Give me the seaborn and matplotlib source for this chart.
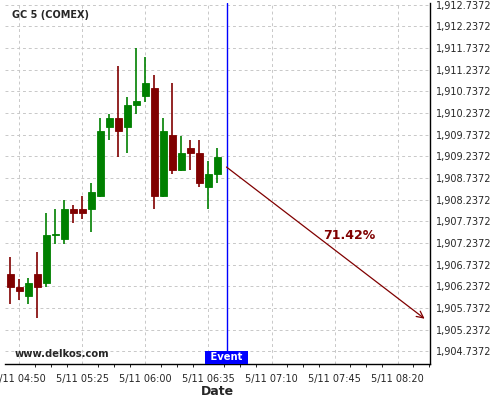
import seaborn as sns
import matplotlib.pyplot as plt
import matplotlib.dates as mdates
from matplotlib.ticker import FixedLocator, FuncFormatter
import pandas as pd
import numpy as np

# Candle data (5 minute bars, 11 May)
day = "2023-05-11"
times = ['04:45', '04:50', '04:55', '05:00', '05:05', '05:10', '05:15', '05:20',
         '05:25', '05:30', '05:35', '05:40', '05:45', '05:50', '05:55', '06:00',
         '06:05', '06:10', '06:15', '06:20', '06:25', '06:30', '06:35', '06:40']
opens = [1906.52, 1906.22, 1906.02, 1906.52, 1906.31, 1907.43, 1907.33, 1908.02,
         1908.02, 1908.02, 1908.32, 1909.92, 1910.12, 1909.92, 1910.43, 1910.64,
         1910.82, 1908.33, 1909.73, 1908.93, 1909.43, 1909.32, 1908.54, 1908.84]
highs = [1906.91, 1906.41, 1906.42, 1907.02, 1907.92, 1908.02, 1908.22, 1908.11,
         1908.32, 1908.62, 1910.12, 1910.22, 1911.32, 1910.61, 1911.73, 1911.52,
         1911.11, 1910.12, 1910.92, 1909.71, 1909.61, 1909.61, 1909.12, 1909.42]
lows = [1905.82, 1905.92, 1905.82, 1905.50, 1906.22, 1907.21, 1907.21, 1907.71,
        1907.80, 1907.50, 1908.30, 1909.61, 1909.22, 1909.31, 1910.21, 1910.50,
        1908.02, 1908.31, 1908.82, 1908.90, 1908.92, 1908.52, 1908.02, 1908.62]
closes = [1906.23, 1906.14, 1906.31, 1906.23, 1907.42, 1907.44, 1908.02, 1907.93,
          1907.93, 1908.41, 1909.82, 1910.12, 1909.83, 1910.42, 1910.52, 1910.93,
          1908.33, 1909.83, 1908.93, 1909.32, 1909.32, 1908.63, 1908.83, 1909.22]

# Event and forecast arrow
event_time = '06:45'
arrow_start = ('06:45', 1908.99)
arrow_end = ('08:35', 1905.49)
arrow_label = '71.42%'

# Axis ticks
x_ticks = ['04:50', '05:25', '06:00', '06:35', '07:10', '07:45', '08:20']
y_ticks = [1904.7372, 1905.2372, 1905.7372, 1906.2372, 1906.7372, 1907.2372,
           1907.7372, 1908.2372, 1908.7372, 1909.2372, 1909.7372, 1910.2372,
           1910.7372, 1911.2372, 1911.7372, 1912.2372, 1912.7372]


def to_num(t):
    return mdates.date2num(pd.Timestamp(f"{day} {t}"))


df = pd.DataFrame({'time': [to_num(t) for t in times], 'open': opens,
                   'high': highs, 'low': lows, 'close': closes})
df['up'] = df['close'] >= df['open']
df['color'] = np.where(df['up'], '#008000', '#800000')
df['bottom'] = df[['open', 'close']].min(axis=1)
df['height'] = (df['close'] - df['open']).abs()

sns.set_style("white")
plt.rcParams['font.family'] = ['DejaVu Sans']

fig = plt.figure(figsize=(5, 4), dpi=100)
ax = fig.add_axes([0.01, 0.09, 0.85, 0.9025])

one_min = 1 / 1440
ax.vlines(df['time'], df['low'], df['high'], colors=df['color'], linewidth=1.2, zorder=2)
ax.bar(df['time'], df['height'], bottom=df['bottom'], width=3.9 * one_min,
       color=df['color'], edgecolor=df['color'], linewidth=0.6, zorder=3)

# Event line and label
ex = to_num(event_time)
ax.axvline(ex, color='#0000ff', linewidth=1.0, zorder=4)
ax.annotate(' Event ', xy=(ex, 0), xycoords=('data', 'axes fraction'),
            xytext=(0, 1.2), textcoords='offset points', ha='center', va='bottom',
            color='white', fontsize=7.2, fontweight='bold', zorder=6,
            bbox=dict(boxstyle='square,pad=0.18', facecolor='#0000ff', edgecolor='none'))

# Forecast arrow
ax.annotate('', xy=(to_num(arrow_end[0]), arrow_end[1]),
            xytext=(to_num(arrow_start[0]), arrow_start[1]),
            arrowprops=dict(arrowstyle='->', color='#800000', lw=0.9,
                            mutation_scale=12, shrinkA=0, shrinkB=0), zorder=5)
ax.text(0.81, 0.355, arrow_label, transform=ax.transAxes, ha='center', va='center',
        color='#800000', fontsize=9, fontweight='bold')

ax.text(0.0165, 0.967, 'GC 5 (COMEX)', transform=ax.transAxes, ha='left', va='center',
        fontsize=7, fontweight='bold')
ax.text(0.0235, 0.028, 'www.delkos.com', transform=ax.transAxes, ha='left', va='center',
        fontsize=7.2, fontweight='bold')

# Limits
ax.set_xlim(to_num('04:42'), to_num('08:38'))
ax.set_ylim(1904.445, 1912.776)

# X axis
ax.xaxis.set_major_locator(FixedLocator([to_num(t) for t in x_ticks]))
ax.xaxis.set_minor_locator(FixedLocator(np.arange(to_num('04:50') - 8.75 * one_min,
                                                  to_num('08:38'), 8.75 * one_min)))


def fmt_x(v, _):
    d = pd.Timestamp(mdates.num2date(v)).round('min')
    return f"{d.month}/{d.day} {d:%H:%M}"


ax.xaxis.set_major_formatter(FuncFormatter(fmt_x))
ax.set_xlabel('Date', fontsize=9, fontweight='bold', labelpad=1)

# Y axis on the right
ax.yaxis.tick_right()
ax.yaxis.set_major_locator(FixedLocator(y_ticks))
ax.yaxis.set_minor_locator(FixedLocator(np.arange(y_ticks[0] - 0.3, 1912.8, 0.1)))
ax.yaxis.set_major_formatter(FuncFormatter(lambda v, _: f"{v:,.4f}"))

ax.tick_params(axis='both', which='major', labelsize=7, color='black', direction='out')
ax.tick_params(axis='x', which='major', length=4, pad=3)
ax.tick_params(axis='x', which='minor', length=2, color='black', bottom=True)
ax.tick_params(axis='y', which='major', length=3, pad=1, right=True, left=False)
ax.tick_params(axis='y', which='minor', length=1.5, color='black', right=True, left=False)

ax.grid(True, which='major', linestyle=(0, (3, 3)), linewidth=0.7, color='#c8c8c8')
ax.set_axisbelow(True)

sns.despine(ax=ax, left=True, top=True, right=False, bottom=False)
for side in ['right', 'bottom']:
    ax.spines[side].set_color('black')
    ax.spines[side].set_linewidth(1.0)

fig.savefig('out.png', dpi=100, facecolor='white')
plt.close(fig)
